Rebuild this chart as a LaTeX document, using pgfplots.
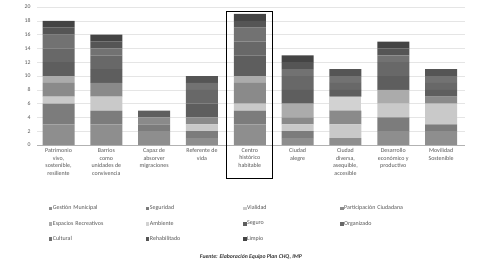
\documentclass[border=0pt]{standalone}
\usepackage{pgfplots}
\usepackage{pgfplotstable}
\pgfplotsset{compat=1.18}
\usepackage{fontspec}
\setmainfont{Carlito}
\definecolor{txt}{HTML}{555555}
\definecolor{cGM}{HTML}{8E8E8E}
\definecolor{cSeg}{HTML}{7C7C7C}
\definecolor{cVial}{HTML}{C9C9C9}
\definecolor{cPC}{HTML}{8A8A8A}
\definecolor{cER}{HTML}{ABABAB}
\definecolor{cAmb}{HTML}{D2D2D2}
\definecolor{cSeguro}{HTML}{5E5E5E}
\definecolor{cOrg}{HTML}{686868}
\definecolor{cCult}{HTML}{727272}
\definecolor{cRehab}{HTML}{555555}
\definecolor{cLimpio}{HTML}{444444}
\pgfplotstableread{
x GM Seg Vial PC ER Amb Seguro Org Cult Rehab Limpio
0 3 3 1 2 1 0 2 2 2 1 1
1 3 2 2 2 0 0 2 2 1 1 1
2 2 1 0 1 0 0 1 0 0 0 0
3 1 1 1 1 0 0 2 2 1 1 0
4 3 2 1 3 1 0 3 2 2 1 1
5 1 1 1 1 2 0 2 2 1 1 1
6 1 0 2 2 0 2 1 1 1 1 0
7 2 2 2 0 2 0 2 2 1 1 1
8 2 1 3 1 0 0 1 1 1 1 0
}\datatable
\begin{document}
\begin{tikzpicture}
\useasboundingbox (-37bp,-124bp) rectangle (440bp,145bp);
\begin{axis}[
  at={(0,0)}, anchor=south west,
  scale only axis, width=428bp, height=138bp,
  ybar stacked, bar width=32bp,
  xmin=-0.45, xmax=8.5, ymin=0, ymax=20,
  ytick={0,2,...,20},
  xtick=data,
  xticklabels={{Patrimonio\\vivo,\\sostenible,\\resiliente},{Barrios\\como\\unidades de\\convivencia},{Capaz de\\absorver\\migraciones},{Referente de\\vida},{Centro\\histórico\\habitable},{Ciudad\\alegre},{Ciudad\\diversa,\\asequible,\\accesible},{Desarrollo\\económico y\\productivo},{Movilidad\\Sostenible}},
  xticklabel style={align=center, font=\fontsize{6}{7.6}\selectfont, text=txt},
  yticklabel style={font=\fontsize{5.8}{6}\selectfont, text=txt, xshift=-3bp},
  /pgf/number format/assume math mode=true,
  axis x line*=bottom, axis y line*=left,
  x axis line style={draw=gray!60},
  y axis line style={draw=none},
  major tick length=0pt,
  ymajorgrids, grid style={draw=gray!20},
  enlargelimits=false, clip=false,
  legend columns=4,
  legend style={at={(axis description cs:0.02,-0.41)}, anchor=north west, draw=none, fill=none,
    font=\fontsize{6}{7}\selectfont, text=txt, row sep=5.5bp,
    /tikz/every even column/.append style={column sep=0bp},
    /tikz/every odd column/.append style={column sep=-1.5bp},
    cells={anchor=west, text width=91bp}},
  legend image code/.code={\fill[#1] (0bp,-1.8bp) rectangle (3.6bp,1.8bp);},
]
\addplot[fill=cGM, draw=none] table[x=x,y=GM]{\datatable};
\addplot[fill=cSeg, draw=none] table[x=x,y=Seg]{\datatable};
\addplot[fill=cVial, draw=none] table[x=x,y=Vial]{\datatable};
\addplot[fill=cPC, draw=none] table[x=x,y=PC]{\datatable};
\addplot[fill=cER, draw=none] table[x=x,y=ER]{\datatable};
\addplot[fill=cAmb, draw=none] table[x=x,y=Amb]{\datatable};
\addplot[fill=cSeguro, draw=none] table[x=x,y=Seguro]{\datatable};
\addplot[fill=cOrg, draw=none] table[x=x,y=Org]{\datatable};
\addplot[fill=cCult, draw=none] table[x=x,y=Cult]{\datatable};
\addplot[fill=cRehab, draw=none] table[x=x,y=Rehab]{\datatable};
\addplot[fill=cLimpio, draw=none] table[x=x,y=Limpio]{\datatable};
\legend{Gestión Municipal,Seguridad,Vialidad,Participación Ciudadana,Espacios Recreativos,Ambiente,Seguro,Organizado,Cultural,Rehabilitado,Limpio}
\draw[black, line width=1.2pt] (axis cs:3.52,-4.8) rectangle (axis cs:4.48,19.4);
\node[font=\fontsize{5.8}{7}\selectfont\bfseries\itshape, text=black!80] at (axis description cs:0.50,-0.81) {Fuente: Elaboración Equipo Plan CHQ, IMP};
\end{axis}
\end{tikzpicture}
\end{document}
